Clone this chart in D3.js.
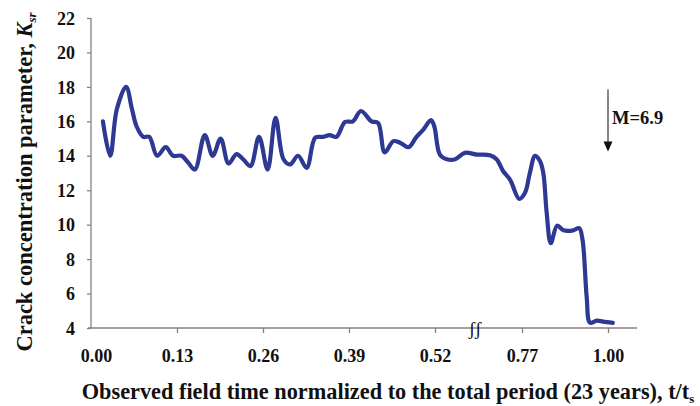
<!DOCTYPE html>
<html>
<head>
<meta charset="utf-8">
<script src="https://cdn.jsdelivr.net/npm/d3@7/dist/d3.min.js"></script>
<style>
  html, body { margin: 0; padding: 0; background: #fff; }
  svg { display: block; }
  text { font-family: "Liberation Serif", "Times New Roman", serif; font-weight: bold; fill: #111; }
</style>
</head>
<body>
<svg id="chart" width="700" height="406"></svg>
<script>
// Normalized observation time t/ts (x positions of the tick stops on a broken axis)
const tickValues = [0, 0.13, 0.26, 0.39, 0.52, 0.77, 1.00];
const tickLabels = ["0.00", "0.13", "0.26", "0.39", "0.52", "0.77", "1.00"];
const yTicks = [4, 6, 8, 10, 12, 14, 16, 18, 20, 22];

// Crack concentration parameter K_sr over time
const timeValues = [
  0.018, 0.029, 0.039, 0.053, 0.062, 0.069, 0.079, 0.088, 0.100, 0.113,
  0.124, 0.137, 0.147, 0.157, 0.172, 0.184, 0.196, 0.208, 0.220, 0.230,
  0.241, 0.254, 0.267, 0.279, 0.291, 0.301, 0.313, 0.326, 0.339, 0.351,
  0.361, 0.371, 0.384, 0.396, 0.408, 0.424, 0.434, 0.444, 0.457, 0.467,
  0.480, 0.492, 0.502, 0.514, 0.519, 0.534, 0.554, 0.578, 0.606, 0.640,
  0.678, 0.697, 0.716, 0.736, 0.762, 0.778, 0.791, 0.805, 0.818, 0.827,
  0.836, 0.847, 0.864, 0.881, 0.907, 0.923, 0.932, 0.943, 0.952, 0.970,
  0.987, 1.013
];
const ksrValues = [
  16.0, 14.0, 16.7, 18.0, 16.7, 15.7, 15.1, 15.1, 14.0, 14.5,
  14.0, 14.0, 13.6, 13.2, 15.2, 14.0, 15.0, 13.55, 14.1, 13.8,
  13.4, 15.1, 13.2, 16.2, 13.8, 13.5, 14.0, 13.3, 15.05, 15.1,
  15.2, 15.1, 15.96, 16.0, 16.6, 16.0, 15.9, 14.2, 14.85, 14.76,
  14.5, 15.1, 15.5, 16.07, 15.7, 14.07, 13.8, 13.8, 14.17, 14.07,
  14.03, 13.8, 13.1, 12.6, 11.5, 11.85, 13.0, 14.0, 13.7, 13.0,
  10.7, 8.93, 9.94, 9.67, 9.67, 9.8, 9.1, 5.8, 4.3, 4.43,
  4.37, 4.3
];

// Magnitude annotation
const quakeTime = 1.00;
const quakeLabel = "M=6.9";
const arrowTop = 17.85, arrowBottom = 14.25, labelLevel = 16.2;
const breakTime = 0.635;
const axisEnd = 1.078;

const svg = d3.select("#chart");
const axisColor = "#8b7f79";
const lineColor = "#2d3992";

// Broken (piecewise linear) time axis
const x = d3.scaleLinear()
  .domain([...tickValues, axisEnd])
  .range([91, 177, 263, 349, 435, 522, 608, 637]);
const y = d3.scaleLinear().domain([4, 22]).range([328, 18]);

// Y axis
const gy = svg.append("g").attr("transform", `translate(${x(0)},0)`)
  .call(d3.axisLeft(y).tickValues(yTicks).tickSize(4).tickPadding(12).tickFormat(d3.format("d")));
gy.select(".domain").attr("stroke", axisColor).attr("stroke-width", 1.3).attr("d", `M0,${y(22)}V${y(4)}`);
gy.selectAll(".tick line").attr("stroke", axisColor).attr("stroke-width", 1.3);
gy.selectAll(".tick text").style("font-size", "18px").attr("dy", "0.34em").attr("fill", "#111");

// X axis
const gx = svg.append("g").attr("transform", `translate(0,${y(4)})`)
  .call(d3.axisBottom(x).tickValues(tickValues).tickSize(5).tickPadding(16)
    .tickFormat((d, i) => tickLabels[i]));
gx.select(".domain").attr("stroke", axisColor).attr("stroke-width", 1.3)
  .attr("d", `M${x(0) - 3},0H${x(axisEnd)}`);
gx.selectAll(".tick line").attr("stroke", axisColor).attr("stroke-width", 1.3);
gx.selectAll(".tick").filter(d => d === 0).select("line").remove();
gx.selectAll(".tick text").style("font-size", "18px").attr("fill", "#111")
  .attr("dx", d => d === 0 ? 5 : 0);

// Axis break marker
svg.append("text")
  .attr("x", x(breakTime)).attr("y", y(4) + 7)
  .attr("text-anchor", "middle")
  .style("font-size", "19px").style("font-weight", "normal")
  .attr("fill", "#7a6e68")
  .text("ʃʃ");

// Data curve
const pts = timeValues.map((t, i) => [t, ksrValues[i]]);
const line = d3.line().x(d => x(d[0])).y(d => y(d[1])).curve(d3.curveCatmullRom.alpha(0.5));
svg.append("path").datum(pts)
  .attr("d", line)
  .attr("fill", "none")
  .attr("stroke", lineColor)
  .attr("stroke-width", 4.2)
  .attr("stroke-linejoin", "round")
  .attr("stroke-linecap", "round");

// Arrow marking the earthquake
const ax = x(quakeTime);
svg.append("line")
  .attr("x1", ax).attr("x2", ax)
  .attr("y1", y(arrowTop)).attr("y2", y(arrowBottom) - 8)
  .attr("stroke", "#333").attr("stroke-width", 1.2);
svg.append("path")
  .attr("d", `M${ax - 4.5},${y(arrowBottom) - 10}L${ax + 4.5},${y(arrowBottom) - 10}L${ax},${y(arrowBottom)}Z`)
  .attr("fill", "#111");
svg.append("text")
  .attr("x", ax + 4).attr("y", y(labelLevel)).attr("dy", "0.35em")
  .style("font-size", "18.5px")
  .text(quakeLabel);

// Y title
const yt = svg.append("text")
  .attr("transform", `translate(32,182) rotate(-90)`)
  .attr("text-anchor", "middle")
  .style("font-size", "22.5px");
yt.append("tspan").text("Crack concentration parameter,  ");
yt.append("tspan").style("font-style", "italic").text("K");
yt.append("tspan").style("font-style", "italic").style("font-size", "13px").attr("dy", 4).text("sr");

// X title
const xt = svg.append("text")
  .attr("x", 388).attr("y", 399)
  .attr("text-anchor", "middle")
  .style("font-size", "22.3px");
xt.append("tspan").text("Observed field time normalized to the total period (23 years), t/t");
xt.append("tspan").style("font-size", "13px").attr("dy", 4).text("s");
</script>
</body>
</html>
